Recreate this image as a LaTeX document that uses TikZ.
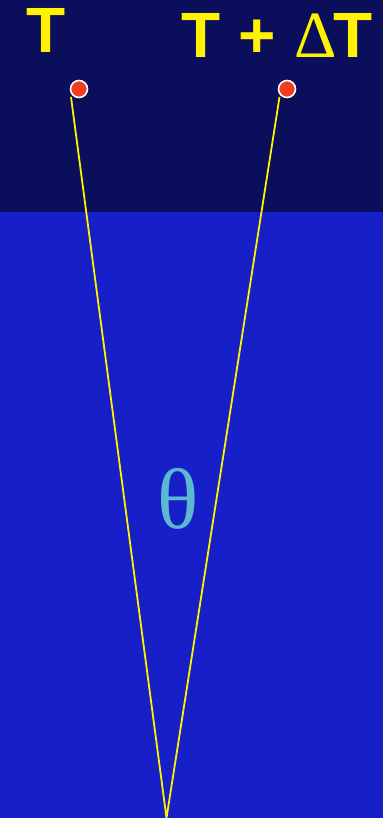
\documentclass[tikz,border=0pt]{standalone}
\usepackage{fontspec}
\setmainfont{Liberation Sans}
\newfontfamily\serifgreek{Liberation Serif}
\usepackage{tikz}
\usetikzlibrary{positioning,calc}
\usepackage{xcolor}
\definecolor{skyband}{HTML}{0B0E5A}
\definecolor{seablue}{HTML}{1720C8}
\definecolor{dotred}{HTML}{F04020}
\definecolor{thetablue}{HTML}{5AB8D0}

\begin{document}
\begin{tikzpicture}[x=1pt,y=-1pt,
    tlabel/.style={text=yellow, font=\bfseries\fontsize{64}{64}\selectfont, anchor=base, inner sep=0pt},
    sensor/.style={circle, fill=dotred, draw=white, line width=1.6pt, minimum size=17pt, inner sep=0pt},
    ray/.style={yellow, line width=1.8pt}]
  % Background: dark band on top, blue below
  \fill[seablue] (0,0) rectangle (383,818);
  \fill[skyband] (0,0) rectangle (383,212);
  \useasboundingbox (0,0) rectangle (383,818);
  % Labels
  \node[tlabel] (tleft) at (46,53) {T};
  \node[tlabel] (tright) at (277.5,58) {T + {\serifgreek\mdseries\fontsize{66}{66}\selectfont Δ}\hspace{-0.04em}T};
  % Sensors
  \node[sensor] (dotl) at (79,89) {};
  \node[sensor] (dotr) at (287,89) {};
  % Rays meeting at the apex
  \coordinate (apex) at (166.5,818);
  \coordinate (startl) at (71,97);
  \coordinate (startr) at (279.5,97);
  \draw[ray] (startl) -- (apex) -- (startr);
  % Angle
  \node[text=thetablue, font=\serifgreek\fontsize{86}{86}\selectfont, inner sep=0pt] (theta) at (178,499) {θ};
\end{tikzpicture}
\end{document}
